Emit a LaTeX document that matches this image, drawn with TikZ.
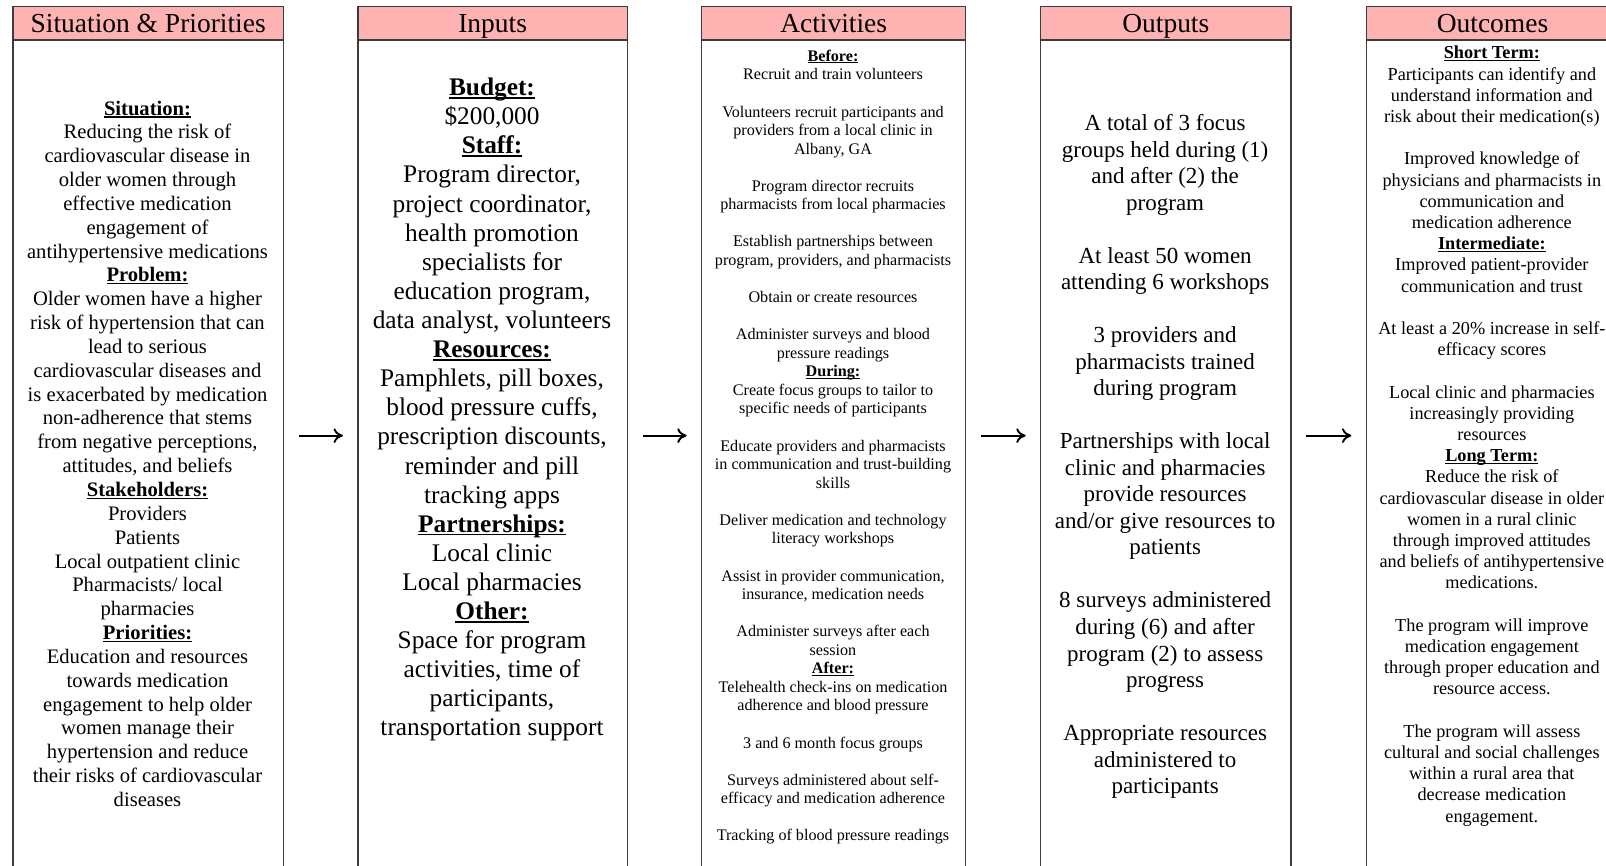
\documentclass[tikz,border=0pt]{standalone}
\usepackage{fontspec}
\setmainfont{Liberation Serif}
\usetikzlibrary{arrows.meta}
\definecolor{hdpink}{RGB}{255,178,178}
\definecolor{edgegray}{RGB}{60,60,60}
\newcommand{\hdg}[1]{\textbf{\setbox0\hbox{#1}\rlap{\rule[-0.12em]{\wd0}{0.06em}}\box0}}
\tikzset{
  colbox/.style={draw=edgegray, line width=1pt, rectangle, inner sep=0pt, anchor=north west, minimum height=655.7pt},
  headbox/.style={draw=edgegray, line width=1pt, fill=hdpink, rectangle, inner sep=0pt, anchor=north west,
     minimum height=25.2pt, text height=14.2pt, text depth=0pt, font=\fontsize{20.6pt}{24pt}\selectfont},
  body/.style={align=center, anchor=north, inner sep=0pt},
  fA/.style={font=\fontsize{15.45pt}{17.88pt}\selectfont},
  fB/.style={font=\fontsize{19pt}{21.83pt}\selectfont},
  fC/.style={font=\fontsize{12.1pt}{13.92pt}\selectfont},
  fD/.style={font=\fontsize{17.25pt}{19.88pt}\selectfont},
  fE/.style={font=\fontsize{13.7pt}{15.9pt}\selectfont},
  flow/.style={-{To[length=7pt,width=11pt]}, line width=1.4pt, shorten >=10.8pt, shorten <=11pt}
}
\begin{document}
\begin{tikzpicture}[x=0.75pt,y=-0.75pt]
\useasboundingbox (0,0) rectangle (1606,866);
\fill[white] (0,0) rectangle (1606,866);

% column boxes
\node[colbox, minimum width=202.8pt] (b1) at (12.3,5.7) {};
\node[colbox, minimum width=202.05pt] (b2) at (357.3,5.7) {};
\node[colbox, minimum width=198pt] (b3) at (701,5.7) {};
\node[colbox, minimum width=187.7pt] (b4) at (1040,5.7) {};
\node[colbox, minimum width=189.2pt] (b5) at (1365.7,5.7) {};

% headers
\node[headbox, minimum width=202.8pt] (h1) at (12.3,5.7) {Situation \& Priorities};
\node[headbox, minimum width=202.05pt] (h2) at (357.3,5.7) {Inputs};
\node[headbox, minimum width=198pt] (h3) at (701,5.7) {Activities};
\node[headbox, minimum width=187.7pt] (h4) at (1040,5.7) {Outputs};
\node[headbox, minimum width=189.2pt] (h5) at (1365.7,5.7) {Outcomes};

% arrows
\draw[flow] ([yshift=5.9pt]b1.east) -- ([yshift=5.9pt]b2.west);
\draw[flow] ([yshift=5.9pt]b2.east) -- ([yshift=5.9pt]b3.west);
\draw[flow] ([yshift=5.9pt]b3.east) -- ([yshift=5.9pt]b4.west);
\draw[flow] ([yshift=5.9pt]b4.east) -- ([yshift=5.9pt]b5.west);

% column texts
\node[body, fA] (t1) at (147.5,100.5) {\hdg{Situation:}\\
Reducing the risk of\\
cardiovascular disease in\\
older women through\\
effective medication\\
engagement of\\
antihypertensive medications\\
\hdg{Problem:}\\
Older women have a higher\\
risk of hypertension that can\\
lead to serious\\
cardiovascular diseases and\\
is exacerbated by medication\\
non-adherence that stems\\
from negative perceptions,\\
attitudes, and beliefs\\
\hdg{Stakeholders:}\\
Providers\\
Patients\\
Local outpatient clinic\\
Pharmacists/ local\\
pharmacies\\
\hdg{Priorities:}\\
Education and resources\\
towards medication\\
engagement to help older\\
women manage their\\
hypertension and reduce\\
their risks of cardiovascular\\
diseases};

\node[body, fB] (t2) at (492,77.8) {\hdg{Budget:}\\
\$200,000\\
\hdg{Staff:}\\
Program director,\\
project coordinator,\\
health promotion\\
specialists for\\
education program,\\
data analyst, volunteers\\
\hdg{Resources:}\\
Pamphlets, pill boxes,\\
blood pressure cuffs,\\
prescription discounts,\\
reminder and pill\\
tracking apps\\
\hdg{Partnerships:}\\
Local clinic\\
Local pharmacies\\
\hdg{Other:}\\
Space for program\\
activities, time of\\
participants,\\
transportation support};

\node[body, fC] (t3) at (833,49.7) {\hdg{Before:}\\
Recruit and train volunteers\\[\baselineskip]
Volunteers recruit participants and\\
providers from a local clinic in\\
Albany, GA\\[\baselineskip]
Program director recruits\\
pharmacists from local pharmacies\\[\baselineskip]
Establish partnerships between\\
program, providers, and pharmacists\\[\baselineskip]
Obtain or create resources\\[\baselineskip]
Administer surveys and blood\\
pressure readings\\
\hdg{During:}\\
Create focus groups to tailor to\\
specific needs of participants\\[\baselineskip]
Educate providers and pharmacists\\
in communication and trust-building\\
skills\\[\baselineskip]
Deliver medication and technology\\
literacy workshops\\[\baselineskip]
Assist in provider communication,\\
insurance, medication needs\\[\baselineskip]
Administer surveys after each\\
session\\
\hdg{After:}\\
Telehealth check-ins on medication\\
adherence and blood pressure\\[\baselineskip]
3 and 6 month focus groups\\[\baselineskip]
Surveys administered about self-\\
efficacy and medication adherence\\[\baselineskip]
Tracking of blood pressure readings};

\node[body, fD] (t4) at (1165.15,114.4) {A total of 3 focus\\
groups held during (1)\\
and after (2) the\\
program\\[\baselineskip]
At least 50 women\\
attending 6 workshops\\[\baselineskip]
3 providers and\\
pharmacists trained\\
during program\\[\baselineskip]
Partnerships with local\\
clinic and pharmacies\\
provide resources\\
and/or give resources to\\
patients\\[\baselineskip]
8 surveys administered\\
during (6) and after\\
program (2) to assess\\
progress\\[\baselineskip]
Appropriate resources\\
administered to\\
participants};

\node[body, fE] (t5) at (1491.85,45.9) {\hdg{Short Term:}\\
Participants can identify and\\
understand information and\\
risk about their medication(s)\\[\baselineskip]
Improved knowledge of\\
physicians and pharmacists in\\
communication and\\
medication adherence\\
\hdg{Intermediate:}\\
Improved patient-provider\\
communication and trust\\[\baselineskip]
At least a 20\% increase in self-\\
efficacy scores\\[\baselineskip]
Local clinic and pharmacies\\
increasingly providing\\
resources\\
\hdg{Long Term:}\\
Reduce the risk of\\
cardiovascular disease in older\\
women in a rural clinic\\
through improved attitudes\\
and beliefs of antihypertensive\\
medications.\\[\baselineskip]
The program will improve\\
medication engagement\\
through proper education and\\
resource access.\\[\baselineskip]
The program will assess\\
cultural and social challenges\\
within a rural area that\\
decrease medication\\
engagement.};
\end{tikzpicture}
\end{document}
